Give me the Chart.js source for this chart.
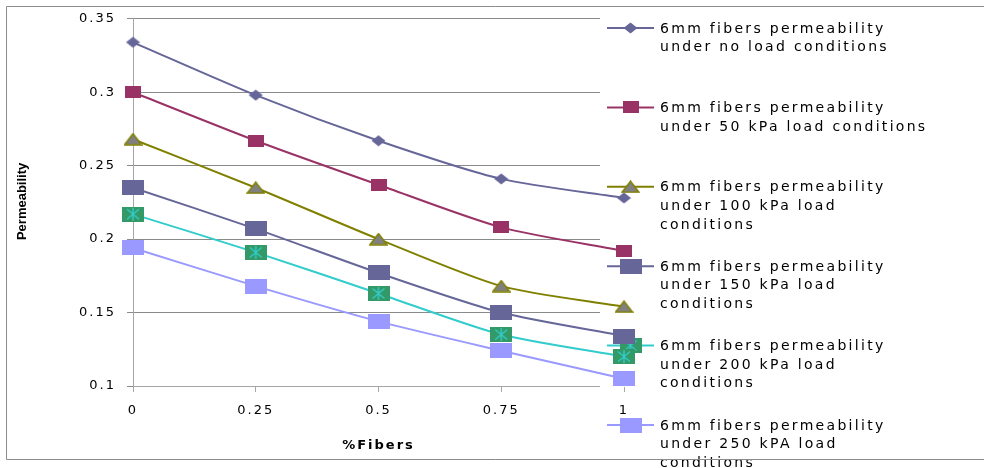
<!DOCTYPE html>
<html>
<head>
<meta charset="utf-8">
<script src="https://cdn.jsdelivr.net/npm/chart.js@4.4.1/dist/chart.umd.min.js"></script>
<style>
  html, body { margin: 0; padding: 0; background: #fff; overflow: hidden; }
  #wrap { width: 984px; height: 468px; position: relative; }
</style>
</head>
<body>
<div id="wrap"><canvas id="c" width="984" height="468"></canvas></div>
<script>
// Fibre content (%) on the x axis
const fiberPercent = [0, 0.25, 0.5, 0.75, 1];
const xTickLabels = ['0', '0.25', '0.5', '0.75', '1'];
const yTickLabels = ['0.1', '0.15', '0.2', '0.25', '0.3', '0.35'];
const xAxisTitle = '%Fibers';
const yAxisTitle = 'Permeability';

// Permeability for 6mm fibres under each load
const permNoLoad = [0.334, 0.298, 0.267, 0.241, 0.228];
const perm50kPa  = [0.300, 0.267, 0.237, 0.208, 0.192];
const perm100kPa = [0.268, 0.235, 0.200, 0.168, 0.154];
const perm150kPa = [0.235, 0.207, 0.177, 0.150, 0.134];
const perm200kPa = [0.217, 0.191, 0.163, 0.135, 0.120];
const perm250kPa = [0.194, 0.168, 0.144, 0.124, 0.105];

const seriesNames = [
  '6mm fibers permeability under no load conditions',
  '6mm fibers permeability under 50 kPa load conditions',
  '6mm fibers permeability under 100 kPa load conditions',
  '6mm fibers permeability under 150 kPa load conditions',
  '6mm fibers permeability under 200 kPa load conditions',
  '6mm fibers permeability under 250 kPA load conditions'
];
const legendLines = [
  ['6mm fibers permeability', 'under no load conditions'],
  ['6mm fibers permeability', 'under 50 kPa load conditions'],
  ['6mm fibers permeability', 'under 100 kPa load', 'conditions'],
  ['6mm fibers permeability', 'under 150 kPa load', 'conditions'],
  ['6mm fibers permeability', 'under 200 kPa load', 'conditions'],
  ['6mm fibers permeability', 'under 250 kPA load', 'conditions']
];

// ---- marker images ----
function makeMarker(w, h, paint) {
  const cv = document.createElement('canvas');
  cv.width = w; cv.height = h;
  paint(cv.getContext('2d'), w, h);
  return cv;
}
const diamond = makeMarker(15, 12, (g, w, h) => {
  g.fillStyle = '#666699';
  g.beginPath();
  g.moveTo(0.5, h / 2); g.lineTo(w / 2, 0.5); g.lineTo(w - 0.5, h / 2); g.lineTo(w / 2, h - 0.5);
  g.closePath(); g.fill();
});
const smallSquare = makeMarker(16, 12, (g, w, h) => {
  g.fillStyle = '#993366'; g.fillRect(0, 0, w, h);
});
const triangle = makeMarker(19, 13, (g, w, h) => {
  g.fillStyle = '#808080'; g.strokeStyle = '#808000'; g.lineWidth = 1.5;
  g.beginPath();
  g.moveTo(w / 2, 1); g.lineTo(w - 1, h - 1); g.lineTo(1, h - 1);
  g.closePath(); g.fill(); g.stroke();
});
const bigSquare = makeMarker(22, 15, (g, w, h) => {
  g.fillStyle = '#666699'; g.fillRect(0, 0, w, h);
});
const starSquare = makeMarker(22, 15, (g, w, h) => {
  g.fillStyle = '#339966'; g.fillRect(0, 0, w, h);
  g.strokeStyle = '#33CCCC'; g.lineWidth = 1.4;
  g.beginPath();
  g.moveTo(w / 2, 1); g.lineTo(w / 2, h - 1);
  g.moveTo(w / 2 - 6, 2.5); g.lineTo(w / 2 + 6, h - 2.5);
  g.moveTo(w / 2 + 6, 2.5); g.lineTo(w / 2 - 6, h - 2.5);
  g.stroke();
});
const paleSquare = makeMarker(22, 15, (g, w, h) => {
  g.fillStyle = '#9999FF'; g.fillRect(0, 0, w, h);
});

const seriesValues = [permNoLoad, perm50kPa, perm100kPa, perm150kPa, perm200kPa, perm250kPa];
const lineColors = ['#666699', '#993366', '#808000', '#666699', '#33CCCC', '#9999FF'];
const markers = [diamond, smallSquare, triangle, bigSquare, starSquare, paleSquare];

const datasets = seriesValues.map((vals, i) => ({
  label: seriesNames[i],
  data: fiberPercent.map((x, j) => ({ x: x, y: vals[j] })),
  borderColor: lineColors[i],
  backgroundColor: lineColors[i],
  borderWidth: 2,
  tension: 0.25,
  pointStyle: markers[i],
  pointRadius: 8,
  clip: false,
  fill: false
}));

const gridGray = '#8a8a8a';
const axisGray = '#a6a6a6';

// White legend panel, legend entries, y-axis title and the outer frame
const legendPanel = {
  id: 'legendPanel',
  beforeDraw(chart) {
    chart.ctx.letterSpacing = '2px';
  },
  beforeDatasetsDraw(chart) {
    const ctx = chart.ctx;
    const area = chart.chartArea;
    ctx.save();
    ctx.fillStyle = '#ffffff';
    ctx.fillRect(600, area.top - 3, 384, area.bottom - area.top + 4);

    ctx.font = '14px "DejaVu Sans"';
    ctx.letterSpacing = '2.3px';
    ctx.fillStyle = '#000000';
    ctx.textBaseline = 'middle';
    ctx.textAlign = 'left';
    for (let i = 0; i < legendLines.length; i++) {
      const y = 28 + i * 79.4;
      ctx.strokeStyle = lineColors[i];
      ctx.lineWidth = 2;
      ctx.beginPath();
      ctx.moveTo(607, y); ctx.lineTo(654, y);
      ctx.stroke();
      const m = markers[i];
      ctx.drawImage(m, 630.5 - m.width / 2, y - m.height / 2);
      legendLines[i].forEach((t, k) => ctx.fillText(t, 660, y + 1 + k * 18.6));
    }
    ctx.restore();
  },
  afterDraw(chart) {
    const ctx = chart.ctx;
    const area = chart.chartArea;
    ctx.save();
    // y-axis title, rotated and set tight
    ctx.letterSpacing = '0px';
    ctx.font = 'bold 13px "Liberation Sans"';
    ctx.fillStyle = '#000';
    ctx.textAlign = 'center';
    ctx.textBaseline = 'middle';
    ctx.translate(22, (area.top + area.bottom) / 2 - 1);
    ctx.rotate(-Math.PI / 2);
    ctx.fillText(yAxisTitle, 0, 0);
    ctx.restore();

    ctx.save();
    ctx.strokeStyle = '#8c8c8c';
    ctx.lineWidth = 1;
    ctx.beginPath();
    ctx.moveTo(984, 6.5); ctx.lineTo(6.5, 6.5); ctx.lineTo(6.5, 459.5); ctx.lineTo(984, 459.5);
    ctx.stroke();
    ctx.restore();
  }
};

new Chart(document.getElementById('c'), {
  type: 'line',
  data: { datasets: datasets },
  plugins: [legendPanel],
  options: {
    responsive: false,
    animation: false,
    events: [],
    layout: { padding: { left: 15, top: 13, right: 360, bottom: 11 } },
    plugins: { legend: { display: false }, tooltip: { enabled: false } },
    scales: {
      x: {
        type: 'linear',
        min: 0,
        max: 1,
        afterFit(scale) { scale.height = 71; },
        ticks: {
          stepSize: 0.25,
          autoSkip: false,
          maxRotation: 0,
          padding: 11,
          color: '#000',
          font: { family: 'DejaVu Sans', size: 13 },
          callback: (v, idx) => xTickLabels[idx]
        },
        grid: { drawOnChartArea: false, drawTicks: true, tickLength: 6, color: axisGray },
        border: { color: axisGray },
        title: {
          display: true,
          text: xAxisTitle,
          color: '#000',
          font: { family: 'DejaVu Sans', size: 13, weight: 'bold' },
          padding: { top: 0, bottom: 4 }
        }
      },
      y: {
        min: 0.1,
        max: 0.35,
        afterFit(scale) { scale.width = 118; },
        ticks: {
          stepSize: 0.05,
          padding: 11,
          color: '#000',
          font: { family: 'DejaVu Sans', size: 13 },
          callback: (v, idx) => yTickLabels[idx]
        },
        grid: { color: gridGray, tickLength: 6 },
        border: { color: axisGray }
      }
    }
  }
});
</script>
</body>
</html>
